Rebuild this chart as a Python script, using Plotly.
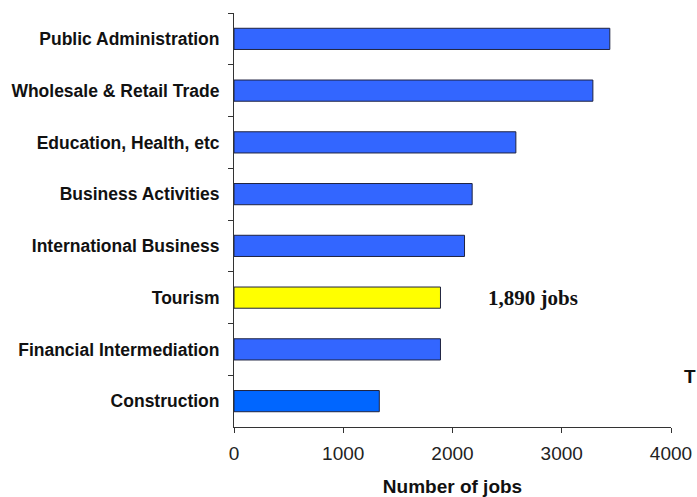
import plotly.graph_objects as go

categories = ["Public Administration", "Wholesale & Retail Trade", "Education, Health, etc",
              "Business Activities", "International Business", "Tourism",
              "Financial Intermediation", "Construction"]
jobs = [3440, 3285, 2580, 2180, 2110, 1890, 1890, 1330]
colors = ["#3366FF", "#3366FF", "#3366FF", "#3366FF", "#3366FF", "#FFFF00", "#3366FF", "#0066FF"]
x_ticks = [0, 1000, 2000, 3000, 4000]
tourism_label = "1,890 jobs"

fig = go.Figure()
fig.add_trace(go.Bar(
    y=categories, x=jobs, orientation="h",
    marker=dict(color=colors, line=dict(color="#1f2340", width=1)),
    width=0.41, hoverinfo="x+y",
))

fig.add_annotation(x=2310, y="Tourism", xref="x", yref="y", text="<b>" + tourism_label + "</b>",
                   showarrow=False, xanchor="left", yanchor="middle",
                   font=dict(family="Liberation Serif, Times New Roman, serif", size=21, color="#111111"))
fig.add_annotation(x=1.0595, y=0.123, xref="paper", yref="paper", text="<b>T</b>",
                   showarrow=False, xanchor="right", yanchor="middle", borderpad=0,
                   font=dict(family="Liberation Sans, Arial, sans-serif", size=19, color="#111111"))

fig.update_layout(
    width=697, height=497,
    margin=dict(l=234, r=26, t=13, b=70),
    paper_bgcolor="white", plot_bgcolor="white",
    showlegend=False,
    font=dict(family="Liberation Sans, Arial, sans-serif", color="#111111"),
    xaxis=dict(range=[0, 4000], tickvals=x_ticks, ticks="outside", ticklen=5, tickcolor="#333333",
               showline=True, linecolor="#333333", linewidth=1, showgrid=False, zeroline=False,
               automargin=False, ticklabelstandoff=4,
               tickfont=dict(size=19, color="#222222"),
               title=dict(text="<b>Number of jobs</b>", font=dict(size=19, color="#111111"), standoff=22)),
    yaxis=dict(categoryorder="array", categoryarray=categories, autorange="reversed",
               ticks="outside", ticklen=5, tickcolor="#333333", tickson="boundaries",
               showline=True, linecolor="#333333", linewidth=1, showgrid=False, zeroline=False,
               ticklabelstandoff=10, automargin=False,
               tickfont=dict(size=17.5, color="#111111", family="Liberation Sans, Arial, sans-serif", weight="bold")),
)

fig.write_html("out.html")
